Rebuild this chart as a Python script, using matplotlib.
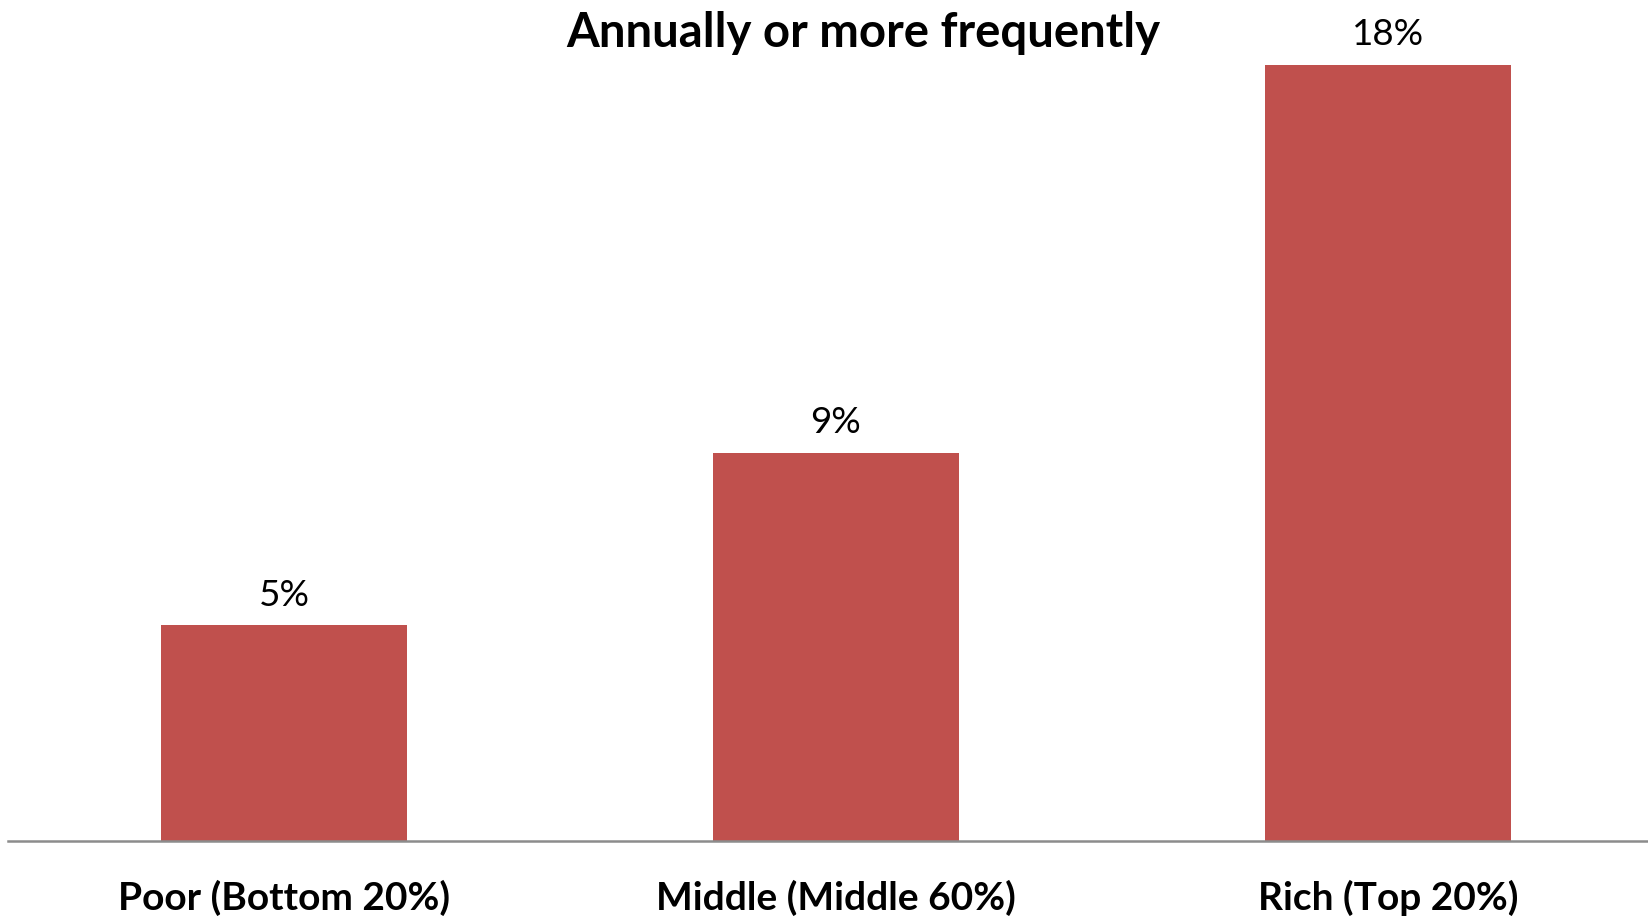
import matplotlib
matplotlib.use("Agg")
import matplotlib.pyplot as plt

# Share of each income group, annually or more frequently (%)
categories = ["Poor (Bottom 20%)", "Middle (Middle 60%)", "Rich (Top 20%)"]
values = [5, 9, 18]
title = "Annually or more frequently"

BAR_COLOR = "#C0504D"
AXIS_COLOR = "#8C8C8C"
FONT = "Lato"

W, H, DPI = 1648, 918, 100
fig = plt.figure(figsize=(W / DPI, H / DPI), dpi=DPI)
fig.patch.set_facecolor("white")

# plot area: baseline ~841 px from top, categories spaced ~552 px apart
left_px, right_px, base_px = 8, 1664, 841
ax = fig.add_axes([left_px / W, 1 - base_px / H, (right_px - left_px) / W, base_px / H])
ax.set_facecolor("none")

x = list(range(len(categories)))
bars = ax.bar(x, values, width=0.446, color=BAR_COLOR, zorder=2)

ax.set_xlim(-0.5, len(categories) - 0.5)
ax.set_ylim(0, 19.5)

for b, v in zip(bars, values):
    ax.annotate(f"{v}%", (b.get_x() + b.get_width() / 2, b.get_height()),
                xytext=(0, 14), textcoords="offset points",
                ha="center", va="baseline", fontsize=26.5, family=FONT,
                color="black")

ax.set_xticks(x)
ax.set_xticklabels(categories, fontsize=28, fontweight="bold", family=FONT)
ax.tick_params(axis="x", length=0, pad=28)
ax.set_yticks([])

for s in ("top", "right", "left"):
    ax.spines[s].set_visible(False)
ax.spines["bottom"].set_color(AXIS_COLOR)
ax.spines["bottom"].set_linewidth(1.8)
ax.spines["bottom"].set_zorder(3)

fig.text(863 / W, 1 - 47 / H, title, ha="center", va="baseline",
         fontsize=34, fontweight="bold", family=FONT)

fig.savefig("out.png", dpi=DPI, facecolor="white")
